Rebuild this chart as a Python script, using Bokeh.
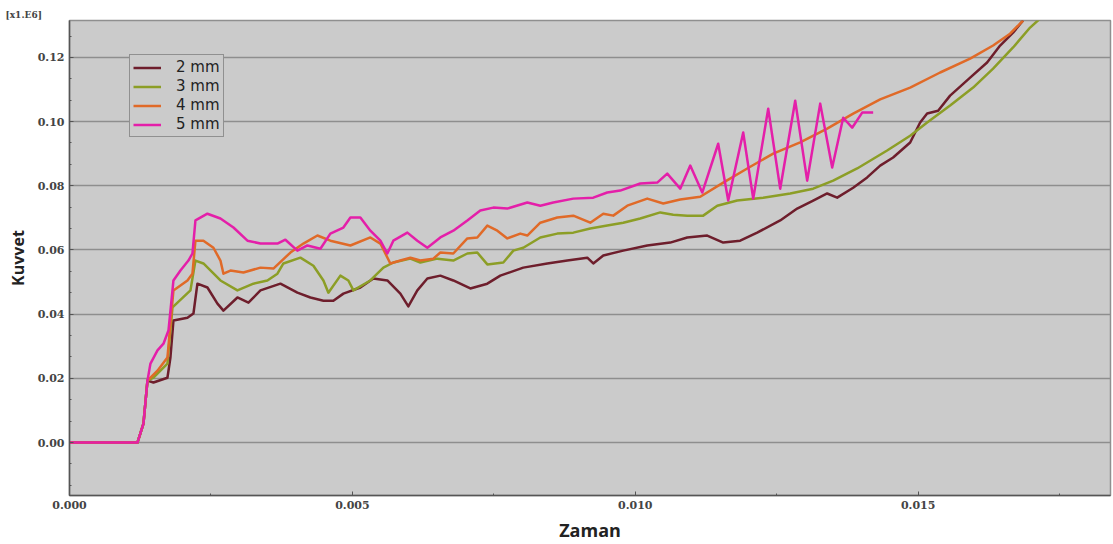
from bokeh.plotting import figure
from bokeh.models import (Range1d, SingleIntervalTicker, NumeralTickFormatter,
                          Legend, LegendItem)
from bokeh.embed import file_html
from bokeh.resources import INLINE

# ---- data ----
series_names = ["2 mm", "3 mm", "4 mm", "5 mm"]
series_colors = ["#6e1e2c", "#8c9e26", "#e06a28", "#e41fa9"]

x_2mm = [0, 0.001201, 0.001307, 0.001378, 0.001484, 0.001731, 0.001784, 0.001837, 0.002085, 0.002191,
         0.002261, 0.002438, 0.002615, 0.002721, 0.002968, 0.003163, 0.003375, 0.003728, 0.004028, 0.004258,
         0.004488, 0.004664, 0.004841, 0.005141, 0.005371, 0.005618, 0.005848, 0.005989, 0.006148, 0.006325,
         0.006555, 0.006784, 0.007085, 0.007385, 0.007615, 0.008021, 0.008445, 0.008799, 0.009152, 0.009258,
         0.009435, 0.009788, 0.010212, 0.010618, 0.010919, 0.011272, 0.011555, 0.011855, 0.012155, 0.012562,
         0.012862, 0.013145, 0.013392, 0.013569, 0.013852, 0.014099, 0.014329, 0.014558, 0.014859, 0.015035,
         0.015159, 0.015353, 0.015565, 0.015919, 0.016219, 0.016449, 0.016678, 0.016855]
y_2mm = [0, 0, 0.0059, 0.0193, 0.0187, 0.0202, 0.0265, 0.0380, 0.0389, 0.0402,
         0.0495, 0.0483, 0.0433, 0.0411, 0.0452, 0.0436, 0.0474, 0.0495, 0.0467, 0.0452,
         0.0442, 0.0442, 0.0464, 0.0483, 0.0511, 0.0505, 0.0464, 0.0424, 0.0474, 0.0511,
         0.0520, 0.0505, 0.0480, 0.0495, 0.0520, 0.0545, 0.0558, 0.0567, 0.0576, 0.0558,
         0.0583, 0.0598, 0.0614, 0.0623, 0.0639, 0.0645, 0.0623, 0.0629, 0.0654, 0.0692,
         0.0729, 0.0754, 0.0776, 0.0763, 0.0794, 0.0826, 0.0863, 0.0888, 0.0935, 0.0997,
         0.1025, 0.1034, 0.1081, 0.1137, 0.1184, 0.1237, 0.1277, 0.1315]

x_3mm = [0, 0.001201, 0.001307, 0.001378, 0.001484, 0.001731, 0.001820, 0.002138, 0.002226, 0.002367,
         0.002668, 0.002968, 0.003251, 0.003498, 0.003675, 0.003781, 0.004081, 0.004311, 0.004488, 0.004576,
         0.004788, 0.004929, 0.005018, 0.005318, 0.005548, 0.005724, 0.006025, 0.006201, 0.006502, 0.006784,
         0.007032, 0.007208, 0.007385, 0.007668, 0.007845, 0.008021, 0.008322, 0.008622, 0.008905, 0.009205,
         0.009505, 0.009788, 0.010088, 0.010442, 0.010671, 0.010919, 0.011201, 0.011449, 0.011802, 0.012261,
         0.012739, 0.013145, 0.013498, 0.013922, 0.014452, 0.014859, 0.015159, 0.015565, 0.015972, 0.016325,
         0.016678, 0.016979, 0.017155]
y_3mm = [0, 0, 0.0059, 0.0193, 0.0202, 0.0246, 0.0421, 0.0474, 0.0567, 0.0558,
         0.0505, 0.0474, 0.0495, 0.0505, 0.0526, 0.0558, 0.0576, 0.0551, 0.0505, 0.0467,
         0.0520, 0.0505, 0.0474, 0.0505, 0.0545, 0.0561, 0.0573, 0.0561, 0.0573, 0.0567,
         0.0589, 0.0592, 0.0555, 0.0561, 0.0598, 0.0607, 0.0639, 0.0651, 0.0654, 0.0667,
         0.0676, 0.0685, 0.0698, 0.0717, 0.0710, 0.0707, 0.0707, 0.0738, 0.0754, 0.0763,
         0.0776, 0.0791, 0.0816, 0.0854, 0.0910, 0.0956, 0.0997, 0.1050, 0.1106, 0.1165,
         0.1231, 0.1293, 0.1321]

x_4mm = [0, 0.001201, 0.001307, 0.001378, 0.001555, 0.001731, 0.001837, 0.002085, 0.002173, 0.002226,
         0.002367, 0.002544, 0.002668, 0.002721, 0.002845, 0.003074, 0.003375, 0.003604, 0.003905, 0.004134,
         0.004382, 0.004611, 0.004965, 0.005318, 0.005495, 0.005671, 0.005848, 0.006025, 0.006201, 0.006431,
         0.006555, 0.006784, 0.007032, 0.007208, 0.007385, 0.007562, 0.007739, 0.007968, 0.008092, 0.008322,
         0.008622, 0.008905, 0.009205, 0.009435, 0.009611, 0.009859, 0.010212, 0.010495, 0.010795, 0.011148,
         0.011555, 0.011979, 0.012438, 0.012915, 0.013392, 0.013852, 0.014329, 0.014859, 0.015389, 0.015919,
         0.016325, 0.016625, 0.016855]
y_4mm = [0, 0, 0.0059, 0.0193, 0.0224, 0.0265, 0.0474, 0.0505, 0.0526, 0.0629,
         0.0629, 0.0607, 0.0567, 0.0526, 0.0536, 0.0530, 0.0545, 0.0542, 0.0592, 0.0620,
         0.0645, 0.0629, 0.0614, 0.0639, 0.0620, 0.0558, 0.0567, 0.0576, 0.0567, 0.0573,
         0.0592, 0.0589, 0.0636, 0.0639, 0.0676, 0.0660, 0.0636, 0.0651, 0.0645, 0.0685,
         0.0701, 0.0707, 0.0685, 0.0713, 0.0707, 0.0738, 0.0760, 0.0745, 0.0757, 0.0766,
         0.0810, 0.0854, 0.0900, 0.0935, 0.0978, 0.1025, 0.1069, 0.1106, 0.1153, 0.1196,
         0.1237, 0.1274, 0.1315]

x_5mm = [0, 0.001201, 0.001307, 0.001378, 0.001431, 0.001555, 0.001661, 0.001749, 0.001820, 0.001837,
         0.001961, 0.002102, 0.002173, 0.002226, 0.002438, 0.002668, 0.002898, 0.003145, 0.003375, 0.003675,
         0.003816, 0.004028, 0.004205, 0.004435, 0.004611, 0.004841, 0.004965, 0.005141, 0.005318, 0.005495,
         0.005618, 0.005724, 0.005972, 0.006148, 0.006325, 0.006555, 0.006784, 0.007032, 0.007261, 0.007491,
         0.007739, 0.008092, 0.008322, 0.008551, 0.008905, 0.009258, 0.009505, 0.009735, 0.010088, 0.010389,
         0.010565, 0.010795, 0.010972, 0.011184, 0.011466, 0.011643, 0.011908, 0.012085, 0.012350, 0.012562,
         0.012827, 0.013039, 0.013269, 0.013481, 0.013675, 0.013834, 0.014011, 0.014205]
y_5mm = [0, 0, 0.0059, 0.0193, 0.0246, 0.0287, 0.0308, 0.0349, 0.0474, 0.0505,
         0.0536, 0.0567, 0.0589, 0.0692, 0.0713, 0.0698, 0.0670, 0.0629, 0.0620, 0.0620,
         0.0632, 0.0598, 0.0614, 0.0604, 0.0651, 0.0670, 0.0701, 0.0701, 0.0660, 0.0629,
         0.0589, 0.0629, 0.0654, 0.0629, 0.0607, 0.0639, 0.0660, 0.0692, 0.0723, 0.0732,
         0.0729, 0.0748, 0.0738, 0.0748, 0.0760, 0.0763, 0.0779, 0.0785, 0.0807, 0.0810,
         0.0838, 0.0791, 0.0863, 0.0779, 0.0931, 0.0754, 0.0966, 0.0760, 0.1040, 0.0791,
         0.1065, 0.0816, 0.1056, 0.0857, 0.1012, 0.0981, 0.1028, 0.1028]

x_title = "Zaman"
y_title = "Kuvvet"
scale_note = "[x1.E6]"

# ---- figure ----
p = figure(width=1113, height=544, output_backend="svg", toolbar_location=None,
           x_range=Range1d(0, 0.0184), y_range=Range1d(-0.0165, 0.1315),
           min_border_left=69, min_border_right=3, min_border_top=20, min_border_bottom=49)

# scale note shown above the y axis, as in the reference
p.title.text = scale_note
p.title.align = "left"
p.title.offset = -64
p.title.standoff = 2
p.title.text_font = "DejaVu Serif"
p.title.text_font_size = "9px"
p.title.text_font_style = "bold"
p.title.text_color = "#444444"

p.background_fill_color = "#cbcbcb"
p.border_fill_color = "white"
p.outline_line_color = "#8f8f8f"
p.outline_line_width = 1.5

p.xgrid.grid_line_color = None
p.ygrid.grid_line_color = "#8e8e8e"
p.ygrid.grid_line_width = 1.5

p.xaxis.ticker = SingleIntervalTicker(interval=0.005, num_minor_ticks=2)
p.yaxis.ticker = SingleIntervalTicker(interval=0.02, num_minor_ticks=3)
p.xaxis.formatter = NumeralTickFormatter(format="0.000")
p.yaxis.formatter = NumeralTickFormatter(format="0.00")

for ax in (p.xaxis[0], p.yaxis[0]):
    ax.axis_line_color = "#555555"
    ax.axis_line_width = 1.5
    ax.major_tick_line_color = "#555555"
    ax.minor_tick_line_color = "#555555"
    ax.major_tick_in = 4
    ax.major_tick_out = 0
    ax.minor_tick_in = 2
    ax.minor_tick_out = 0
    ax.major_label_text_font = "DejaVu Serif"
    ax.major_label_text_font_size = "11px"
    ax.major_label_text_font_style = "bold"
    ax.major_label_text_color = "#444444"
    ax.major_label_standoff = 5
    ax.axis_label_text_font = "Open Sans"
    ax.axis_label_text_font_style = "bold"
    ax.axis_label_text_color = "#222222"

p.xaxis.axis_label = x_title
p.xaxis.axis_label_text_font_size = "18px"
p.xaxis.axis_label_standoff = 6
p.yaxis.axis_label = y_title
p.yaxis.axis_label_text_font_size = "16px"
p.yaxis.axis_label_standoff = 6

xs = [x_2mm, x_3mm, x_4mm, x_5mm]
ys = [y_2mm, y_3mm, y_4mm, y_5mm]
items = []
for name, color, xv, yv in zip(series_names, series_colors, xs, ys):
    r = p.line(xv, yv, line_color=color, line_width=2.5, line_join="round")
    items.append(LegendItem(label=name, renderers=[r]))

legend = Legend(items=items, location=(60, 358))
legend.background_fill_color = "#cbcbcb"
legend.background_fill_alpha = 1
legend.border_line_color = "#555555"
legend.border_line_width = 1
legend.label_text_font = "DejaVu Sans"
legend.label_text_font_size = "15px"
legend.label_text_color = "#222222"
legend.glyph_width = 28
legend.glyph_height = 15
legend.label_height = 15
legend.label_standoff = 15
legend.spacing = 1
legend.padding = 3
legend.margin = 0
p.add_layout(legend)

open("out.html", "w").write(file_html(p, INLINE))
